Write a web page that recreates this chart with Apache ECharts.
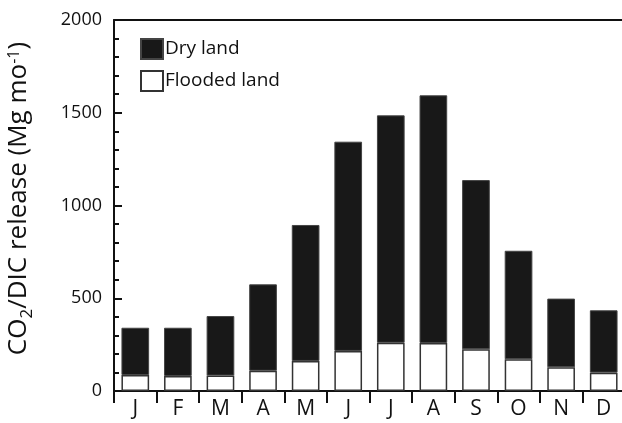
<!DOCTYPE html>
<html>
<head>
<meta charset="utf-8">
<script src="https://cdn.jsdelivr.net/npm/echarts@6/dist/echarts.min.js"></script>
<style>
html,body{margin:0;padding:0;background:#fff;}
#chart{width:622px;height:423px;}
</style>
</head>
<body>
<div id="chart"></div>
<script>
const months = ['J','F','M','A','M','J','J','A','S','O','N','D'];
const floodedLand = [86, 81, 83, 109, 162, 216, 260, 259, 225, 171, 128, 99];
const dryLand = [255, 260, 321, 466, 733, 1128, 1226, 1335, 912, 585, 370, 336];
const yTicks = [0, 500, 1000, 1500, 2000];

const FONT = 'Open Sans';
const chart = echarts.init(document.getElementById('chart'));
chart.setOption({
  animation: false,
  backgroundColor: '#fff',
  textStyle: { fontFamily: FONT },
  grid: { left: 114, right: -3, top: 20, bottom: 32, containLabel: false, outerBoundsMode: 'none' },
  legend: {
    data: ['Dry land', 'Flooded land'],
    orient: 'vertical',
    left: 135, top: 33,
    icon: 'rect',
    itemWidth: 22, itemHeight: 20, itemGap: 10,
    textStyle: { fontSize: 19, color: '#111', fontFamily: FONT, padding: [0, 0, 0, -3] }
  },
  xAxis: [{
    type: 'category',
    data: months,
    axisLine: { lineStyle: { color: '#111', width: 2 } },
    axisTick: { show: true, alignWithLabel: false, length: 12, lineStyle: { color: '#111', width: 2 } },
    axisLabel: { fontSize: 21, color: '#111', margin: 8, fontFamily: FONT }
  }, {
    type: 'category',
    data: months,
    position: 'top',
    axisLine: { show: true, lineStyle: { color: '#111', width: 2 } },
    axisTick: { show: false },
    axisLabel: { show: false }
  }],
  yAxis: {
    type: 'value',
    min: yTicks[0], max: yTicks[yTicks.length - 1], interval: 500,
    name: '{a|CO}{sub|2}{a|/DIC release (Mg mo}{sup|-1}{a|)}',
    nameLocation: 'middle',
    nameGap: 78,
    nameTextStyle: {
      fontFamily: FONT,
      padding: [0, 0, 0, 14],
      rich: {
        a: { fontSize: 26, color: '#111', fontFamily: FONT, lineHeight: 34, verticalAlign: 'middle' },
        sub: { fontSize: 17, color: '#111', fontFamily: FONT, lineHeight: 34, verticalAlign: 'bottom', padding: [0, 0, 0, 0] },
        sup: { fontSize: 16, color: '#111', fontFamily: FONT, lineHeight: 34, verticalAlign: 'top', padding: [4, 0, 0, 0] }
      }
    },
    axisLine: { show: true, lineStyle: { color: '#111', width: 2 } },
    axisTick: { show: true, inside: true, length: 8, lineStyle: { color: '#111', width: 2 } },
    minorTick: { show: true, splitNumber: 5, length: 5, lineStyle: { color: '#111', width: 2 } },
    splitLine: { show: false },
    axisLabel: { fontSize: 18, color: '#111', margin: 12, fontFamily: FONT, formatter: v => String(v) }
  },
  series: [{
    name: 'Flooded land',
    type: 'bar',
    stack: 'total',
    data: floodedLand,
    barCategoryGap: '35%',
    itemStyle: { color: '#fff', borderColor: '#333', borderWidth: 1.5 }
  }, {
    name: 'Dry land',
    type: 'bar',
    stack: 'total',
    data: dryLand,
    barCategoryGap: '35%',
    itemStyle: { color: '#181818', borderColor: '#444', borderWidth: 1 }
  }]
});
</script>
</body>
</html>
